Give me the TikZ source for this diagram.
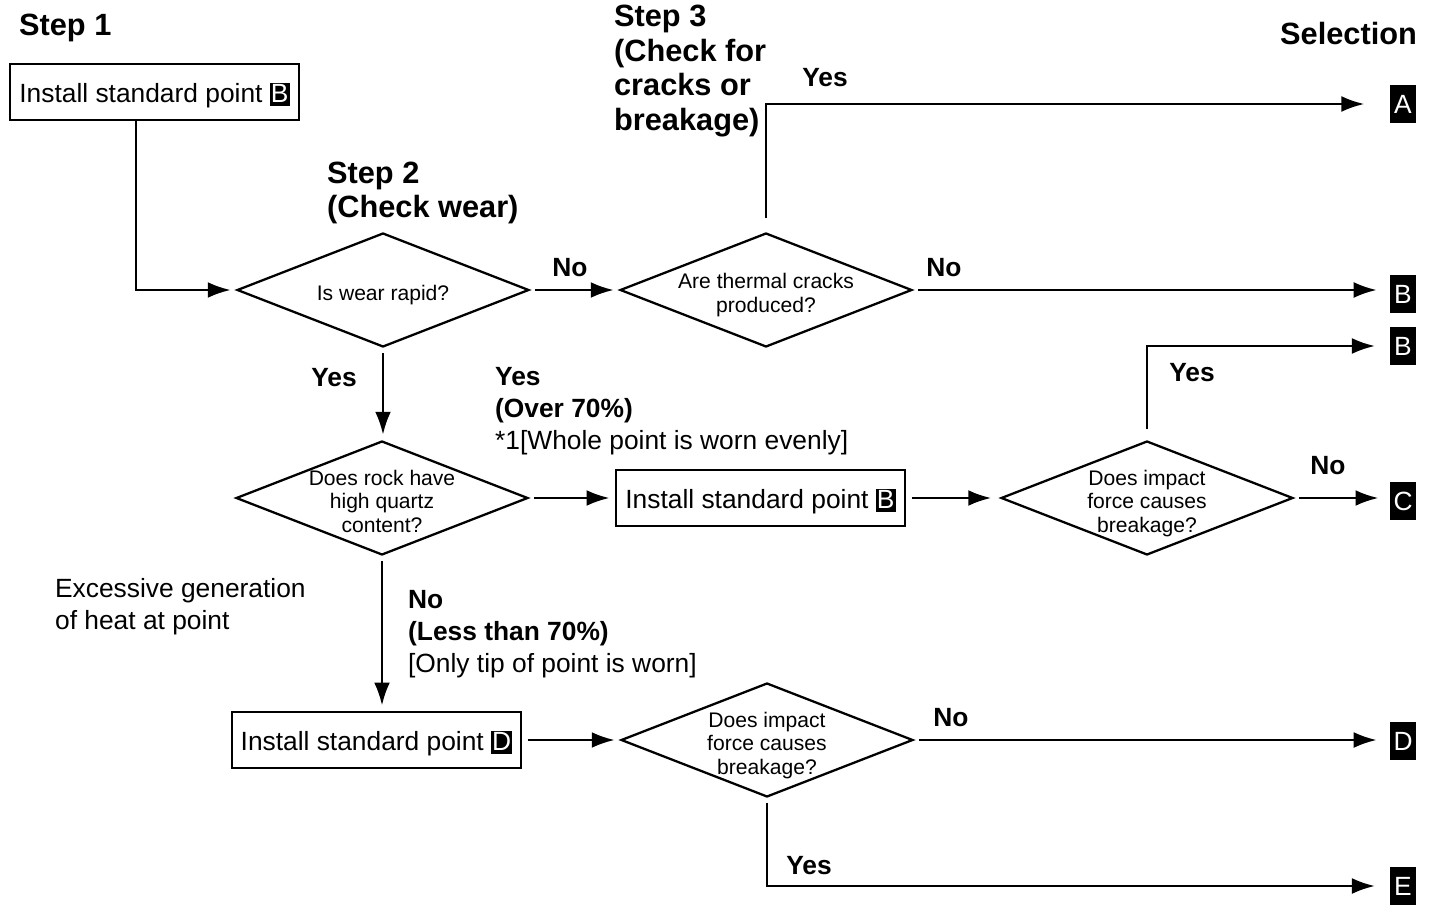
\documentclass[tikz,border=0pt]{standalone}
\usepackage{fontspec}
\setmainfont{Liberation Sans}
\usetikzlibrary{shapes.geometric,arrows.meta,calc}
\newcommand{\ltr}[1]{{\setlength{\fboxsep}{0pt}\colorbox{black}{\color{white}\hspace{0.6pt}\rule[-1.8pt]{0pt}{13pt}#1\hspace{0.6pt}}}}
\newcommand{\dq}[1]{\makebox[0pt]{\smash{\raisebox{-6.5pt}{\begin{tabular}{@{}c@{}}#1\end{tabular}}}}}
\tikzset{
  stepl/.style={font=\fontsize{17.5}{19.7}\selectfont\bfseries,align=left,inner sep=0pt},
  yn/.style={font=\fontsize{15}{18}\selectfont\bfseries,inner sep=0pt},
  note/.style={font=\fontsize{15}{18.1}\selectfont,align=left,inner sep=0pt},
  proc/.style={draw,line width=1.5pt,minimum width=5.78cm,minimum height=1.12cm,inner sep=0pt,text height=15.4pt,text depth=3.2pt,font=\fontsize{15}{18}\selectfont},
  dec/.style={diamond,draw,line width=1.3pt,minimum width=5.84cm,minimum height=2.28cm,inner sep=0pt,font=\fontsize{12}{13.6}\selectfont},
  sel/.style={fill=black,text=white,minimum width=0.52cm,minimum height=0.76cm,inner sep=0pt,font=\fontsize{15}{18}\selectfont},
  arr/.style={-{Latex[length=13pt,width=9pt]},shorten >=3pt,shorten <=3pt}
}
\begin{document}
\begin{tikzpicture}[x=0.02cm,y=-0.02cm,line width=1.3pt]
\useasboundingbox (0,0) rectangle (1439,905);
% headings
\node[stepl,anchor=west] (step1) at (18,28) {Step 1};
\node[stepl,anchor=west] (step2) at (326,193) {Step 2\\(Check wear)};
\node[stepl,anchor=west] (step3) at (613,71) {Step 3\\(Check for\\cracks or\\breakage)};
\node[stepl,anchor=east] (seltitle) at (1418,34) {Selection};
% step 1
\node[proc] (box1) at (154.5,92) {Install standard point \ltr{B}};
% step 2
\node[dec] (d1) at (383,290) {\dq{Is wear rapid?}};
\node[dec] (d3) at (382,498) {\dq{Does rock have\\high quartz\\content?}};
\node[proc] (box2) at (760.5,498) {Install standard point \ltr{B}};
\node[proc] (box3) at (376.5,740) {Install standard point \ltr{D}};
% step 3
\node[dec] (d2) at (766,290) {\dq{Are thermal cracks\\produced?}};
\node[dec] (d4) at (1147,498) {\dq{Does impact\\force causes\\breakage?}};
\node[dec] (d5) at (767,740) {\dq{Does impact\\force causes\\breakage?}};
% selection
\node[sel] (selA) at (1403,104) {A};
\node[sel] (selB1) at (1403,294) {B};
\node[sel] (selB2) at (1403,346) {B};
\node[sel] (selC) at (1403,501) {C};
\node[sel] (selD) at (1403,741) {D};
\node[sel] (selE) at (1403,886) {E};
% notes
\node[note,anchor=west] (over70) at (494,411) {\textbf{Yes}\\\textbf{(Over 70\%)}\\{}*1[Whole point is worn evenly]};
\node[note,anchor=west] (less70) at (407,634) {\textbf{No}\\\textbf{(Less than 70\%)}\\{}{[}Only tip of point is worn{]}};
\node[note,anchor=west] (heat) at (54,607) {Excessive generation\\of heat at point};
% yes / no
\node[yn] (no1) at (570,268) {No};
\node[yn] (yes1) at (334,378) {Yes};
\node[yn] (yes2) at (825,78) {Yes};
\node[yn] (no2) at (944,268) {No};
\node[yn] (yes3) at (1192,373) {Yes};
\node[yn] (no3) at (1328,466) {No};
\node[yn] (no4) at (951,718) {No};
\node[yn] (yes4) at (809,866) {Yes};
% connectors
\draw[arr,shorten <=0pt] ($(box1.south)+(-18.5,0)$) |- (d1.west);
\draw[arr] (d1.east) -- (d2.west);
\draw[arr,shorten <=8pt,shorten >=14pt] (d2.north) |- (selA.west);
\draw[arr,shorten >=7pt] (d2.east) -- (d2.east -| selB1.west);
\draw[arr] (d1.south) -- (d1.south |- d3.north);
\draw[arr] (d3.east) -- (box2.west);
\draw[arr,shorten >=5pt] (box2.east) -- (d4.west);
\draw[arr,shorten <=6pt,shorten >=8pt] (d4.north) |- (selB2.west);
\draw[arr,shorten >=6pt] (d4.east) -- (d4.east -| selC.west);
\draw[arr] (d3.south) -- (d3.south |- box3.north);
\draw[arr] (box3.east) -- (d5.west);
\draw[arr,shorten >=7pt] (d5.east) -- (d5.east -| selD.west);
\draw[arr,shorten >=8pt] (d5.south) |- (selE.west);
\end{tikzpicture}
\end{document}
